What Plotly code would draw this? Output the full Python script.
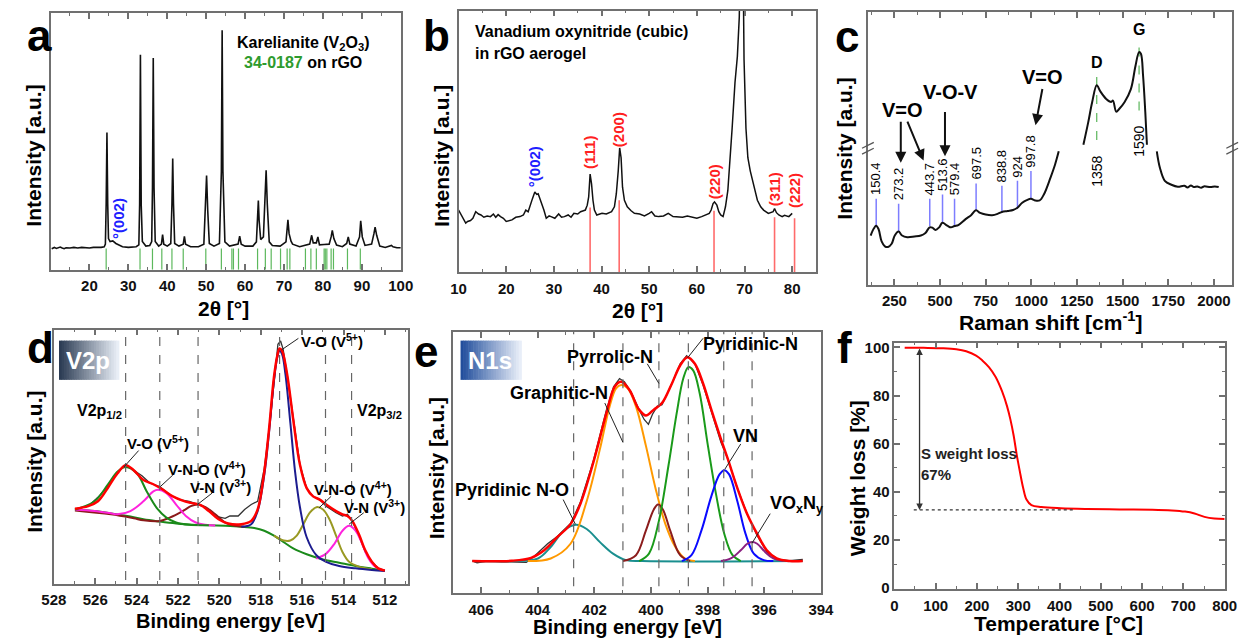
import plotly.graph_objects as go

FIG_W, FIG_H = 1255, 644
FONT = "Liberation Sans, Arial, Helvetica, sans-serif"

# ============================ DATA ============================
# (a) XRD, V2O3 (Karelianite) on rGO: (2theta [deg], intensity [a.u.])
a_xrd = [(10.3, 64), (11, 68), (11.5, 65), (12, 66), (12.5, 69), (13, 66), (13.5, 64), (14, 67), (15, 66),
         (16, 68), (17, 66), (18, 68), (19, 67), (20, 66), (21, 68), (22, 67), (23, 68), (23.8, 70),
         (24.1, 78), (24.3, 200), (24.5, 419), (24.7, 200), (24.9, 95), (25.3, 86), (26.0, 88), (26.8, 80),
         (27.5, 75), (28.5, 70), (30, 68), (31, 69), (32, 70), (32.7, 76),
         (32.9, 200), (33.1, 657), (33.3, 200), (33.6, 86), (34.5, 72), (35.5, 74), (36.0, 86), (36.2, 250),
         (36.4, 647), (36.6, 250), (36.9, 86), (37.8, 72), (38.5, 78), (38.8, 107), (39.1, 78), (40, 72),
         (40.9, 80), (41.2, 200), (41.4, 340), (41.6, 200), (41.9, 80), (43, 72), (44.1, 78), (44.4, 102),
         (44.7, 78), (46, 70), (48, 70), (49.4, 78), (49.8, 180), (50.1, 288), (50.4, 180), (50.8, 80),
         (52, 72), (53.4, 80), (53.9, 300), (54.1, 732), (54.3, 300), (54.8, 85), (56, 72), (57, 75),
         (58.2, 78), (58.6, 102), (59, 78), (60, 72), (62, 72), (62.9, 85), (63.2, 150), (63.4, 211),
         (63.6, 150), (64, 92), (64.7, 100), (65.1, 200), (65.4, 304), (65.7, 200), (66.2, 85), (67, 74),
         (69, 72), (70.5, 85), (70.8, 120), (71.0, 152), (71.3, 110), (71.8, 87), (72.2, 78), (74, 70),
         (76.6, 78), (77.1, 105), (77.5, 82), (78.3, 82), (78.7, 100), (79.1, 76), (80.3, 77), (81.6, 78),
         (82.1, 100), (82.4, 120), (82.8, 95), (83.5, 75), (85, 70), (86.1, 80), (86.5, 100), (86.9, 78),
         (88.5, 72), (89.4, 100), (89.7, 149), (90.1, 100), (90.8, 74), (92.5, 78), (93.1, 110), (93.4, 130),
         (93.8, 105), (94.6, 72), (96, 68), (97.3, 72), (97.6, 74), (98, 70), (99, 67), (100, 67)]
a_ref_2theta = [24.3, 33.0, 36.2, 38.6, 41.2, 44.1, 49.9, 53.9, 56.6, 57.0, 58.3, 63.2, 65.2, 66.7, 69.1,
                70.8, 71.5, 75.5, 76.9, 78.3, 80.3, 80.6, 81.0, 82.1, 82.7, 86.3, 89.6]
a_ref_height = 65

# (b) XRD, vanadium oxynitride in rGO aerogel
b_xrd = [(10.0, 190), (10.5, 175), (11.0, 160), (11.5, 150), (11.9, 155), (12.5, 158), (13.0, 165), (13.6, 185),
         (14.2, 178), (14.7, 175), (15.3, 168), (16.0, 172), (16.7, 170), (17.3, 178), (17.8, 168), (18.3, 176),
         (18.8, 170), (19.4, 165), (20.0, 155), (20.6, 158), (21.2, 160), (22.0, 168), (22.9, 170), (23.6, 175),
         (24.1, 190), (24.6, 185), (25.0, 200), (25.5, 225), (26.0, 245), (26.4, 238), (26.7, 240), (27.1, 225),
         (27.5, 210), (27.9, 190), (28.4, 165), (29.0, 172), (29.4, 170), (30.2, 165), (31.0, 178), (31.6, 168),
         (32.2, 170), (33.0, 175), (33.6, 168), (34.2, 180), (35.0, 178), (35.6, 185), (36.2, 188), (36.6, 190),
         (37.0, 205), (37.3, 230), (37.6, 300), (37.9, 270), (38.2, 220), (38.5, 190), (39.0, 175), (40.1, 180),
         (41.0, 178), (42.1, 185), (42.7, 200), (43.1, 240), (43.5, 310), (43.8, 380), (44.1, 350), (44.4, 260),
         (44.8, 220), (45.4, 200), (46.2, 188), (46.9, 180), (48.0, 178), (49.0, 172), (50.0, 180), (50.5, 185),
         (51.2, 172), (52.0, 170), (53.0, 172), (54.0, 180), (55.0, 170), (56.0, 170), (57.0, 168), (58.0, 172),
         (59.0, 168), (60.0, 165), (61.0, 170), (62.0, 175), (62.6, 180), (63.0, 190), (63.4, 210), (63.7, 215),
         (64.2, 205), (64.6, 185), (65.0, 175), (65.5, 170), (66.0, 200), (66.5, 250), (67.0, 340), (67.4, 440),
         (68.0, 580), (68.5, 660), (68.9, 780), (69.1, 950), (69.7, 950), (69.9, 650), (70.3, 440), (70.7, 350),
         (71.2, 310), (71.8, 270), (72.7, 220), (73.4, 200), (74.0, 190), (75.0, 180), (75.6, 182), (76.0, 185),
         (76.3, 195), (76.7, 182), (77.2, 175), (77.9, 170), (78.4, 174), (78.8, 172), (79.3, 170), (80.0, 180)]
b_ref_2theta = [37.6, 43.7, 63.6, 76.3, 80.5]
b_ref_height = [198, 220, 188, 168, 165]
b_ref_hkl = ["(111)", "(200)", "(220)", "(311)", "(222)"]
b_hkl_y = [365, 435, 275, 252, 250]

# (c) Raman spectrum (three visible segments of a broken y axis)
c_seg1 = [(120, 150), (138, 172), (150, 180), (163, 170), (180, 132), (198, 117), (215, 115), (235, 125),
          (252, 150), (273, 162), (292, 150), (320, 145), (360, 147), (395, 150), (420, 158), (443, 175),
          (458, 174), (475, 167), (495, 175), (513, 189), (540, 180), (560, 175), (579, 179), (600, 182),
          (640, 200), (670, 212), (697, 227), (720, 219), (750, 214), (785, 212), (815, 216), (839, 222),
          (870, 225), (900, 228), (924, 235), (950, 250), (975, 258), (998, 262), (1020, 257), (1045, 257),
          (1070, 277), (1105, 327), (1130, 367), (1150, 407)]
c_seg2 = [(1285, 427), (1312, 497), (1333, 557), (1358, 609), (1378, 590), (1410, 567), (1437, 558),
          (1447, 562), (1465, 528), (1482, 537), (1510, 557), (1545, 597), (1570, 667), (1590, 710),
          (1600, 705), (1612, 637), (1624, 527), (1633, 427)]
c_seg3 = [(1687, 407), (1704, 357), (1731, 317), (1767, 305), (1802, 299), (1838, 302), (1855, 297),
          (1874, 303), (1890, 298), (1909, 300), (1930, 296), (1945, 300), (1981, 298), (2005, 300), (2026, 298)]
c_peak_pos = [150.4, 273.2, 443.7, 513.6, 579.4, 697.5, 838.8, 924, 997.8]
c_peak_lbl = ["150.4", "273.2", "443.7", "513.6", "579.4", "697.5", "838.8", "924", "997.8"]
c_peak_lo = [177, 162, 179, 189, 177, 227, 222, 235, 262]
c_peak_hi = [262, 247, 262, 275, 262, 309, 302, 317, 347]
c_band_pos = [1358, 1590]
c_band_name = ["D", "G"]
c_band_lo = [442, 532]
c_band_hi = [647, 747]
c_band_lbl_top = [397, 487]
c_mode_text = ["V=O", "V-O-V", "V=O"]
c_mode_xy = [(294, 532), (559, 587), (1062, 635)]
c_arrows = [((285, 502), (285, 372)), ((318, 502), (410, 379)), ((527, 532), (527, 392)),
            ((1062, 602), (1023, 487))]

# (d) XPS V2p: (binding energy [eV], intensity [a.u.])
d_raw = [(526.98, 227), (526.34, 237), (525.87, 264), (525.40, 297), (524.93, 342), (524.53, 364), (524.14, 347),
         (523.74, 330), (523.35, 307), (522.88, 297), (522.40, 272), (521.93, 257), (521.46, 252), (520.99, 242),
         (520.51, 227), (520.04, 204), (519.72, 200), (519.49, 207), (519.09, 207), (518.78, 227), (518.46, 242),
         (518.15, 252), (517.83, 352), (517.52, 512), (517.28, 662), (517.17, 732), (517.04, 742), (516.92, 717),
         (516.73, 642), (516.41, 492), (516.10, 362), (515.78, 292), (515.47, 267), (515.15, 257), (514.84, 237),
         (514.36, 217), (514.05, 207), (513.81, 212), (513.58, 192), (513.26, 147), (512.95, 97), (512.63, 67),
         (512.32, 47), (512.00, 40)]
d_envelope = [(526.98, 229), (526.34, 237), (525.87, 252), (525.40, 292), (524.93, 337), (524.53, 362),
              (524.14, 347), (523.67, 317), (523.19, 304), (522.72, 287), (522.25, 267), (521.77, 254),
              (521.38, 247), (520.91, 240), (520.51, 222), (520.04, 197), (519.57, 184), (518.94, 182),
              (518.46, 192), (518.15, 227), (517.83, 342), (517.60, 472), (517.36, 632), (517.20, 697),
              (517.09, 719), (516.97, 712), (516.73, 642), (516.41, 492), (516.10, 362), (515.78, 292),
              (515.47, 267), (515.15, 257), (514.84, 242), (514.36, 222), (514.05, 212), (513.81, 207),
              (513.58, 192), (513.26, 152), (512.95, 102), (512.63, 67), (512.32, 47), (512.00, 40)]
d_background = [(526.98, 227), (526.03, 222), (525.24, 215), (524.45, 207), (523.67, 197), (522.88, 190),
                (522.09, 184), (521.30, 180), (520.51, 179), (519.72, 177), (518.94, 174), (518.31, 170),
                (517.83, 162), (517.36, 147), (516.89, 127), (516.41, 107), (515.78, 90), (514.99, 74),
                (514.21, 64), (513.42, 54), (512.63, 46), (512.00, 40)]
d_vo_12 = [(526.98, 227), (526.03, 252), (525.40, 302), (524.93, 342), (524.53, 357), (523.98, 337),
           (523.51, 282), (523.03, 232), (522.56, 202), (522.09, 187), (521.46, 180), (520.51, 179)]
d_vno_12 = [(526.98, 227), (526.03, 222), (525.24, 215), (524.93, 212), (524.30, 222), (523.67, 252),
            (523.19, 282), (522.96, 287), (522.56, 277), (522.09, 242), (521.62, 207), (521.14, 187),
            (520.67, 180), (520.20, 178)]
d_vn_12 = [(526.98, 224), (525.24, 212), (524.14, 200), (523.67, 194), (522.88, 192), (522.40, 202),
           (521.77, 222), (521.38, 237), (521.06, 242), (520.67, 234), (520.20, 212), (519.72, 187),
           (519.25, 177), (518.78, 174)]
d_vo_32 = [(518.94, 174), (518.46, 182), (518.15, 222), (517.83, 332), (517.60, 462), (517.36, 622),
           (517.20, 692), (517.09, 712), (516.97, 702), (516.81, 642), (516.57, 492), (516.34, 342),
           (516.10, 232), (515.78, 142), (515.31, 87), (514.84, 67), (514.21, 54), (513.42, 47),
           (512.63, 42), (512.00, 39)]
d_vno_32 = [(517.36, 147), (516.89, 132), (516.57, 132), (516.26, 147), (515.94, 182), (515.63, 217),
            (515.31, 234), (514.99, 227), (514.68, 197), (514.36, 147), (514.05, 97), (513.73, 67),
            (513.26, 52), (512.63, 44)]
d_vn_32 = [(515.31, 77), (514.84, 92), (514.44, 122), (514.05, 162), (513.73, 177), (513.42, 162),
           (513.10, 122), (512.79, 77), (512.47, 52), (512.00, 40)]
d_peak_be = [524.53, 522.88, 521.03, 517.09, 514.87, 513.61]
d_labels = ["V-O (V<sup>5+</sup>)", "V-O (V<sup>5+</sup>)", "V-N-O (V<sup>4+</sup>)", "V-N (V<sup>3+</sup>)",
            "V-N-O (V<sup>4+</sup>)", "V-N (V<sup>3+</sup>)"]
d_label_xy = [(516.10, 742), (522.96, 432), (520.59, 352), (519.93, 297), (513.55, 292), (512.52, 237)]
d_label_anchor = ["left", "center", "center", "center", "center", "center"]
d_leaders = [((516.99, 715), (516.18, 750)), ((524.61, 357), (523.90, 407)), ((522.85, 297), (522.25, 332)),
             ((521.06, 242), (520.35, 277)), ((515.18, 232), (514.60, 267)), ((513.73, 182), (513.02, 217))]

# (e) XPS N1s
e_raw = [(406.25, 95), (406.14, 92), (405.73, 98), (405.27, 95), (404.40, 93), (404.12, 112), (403.65, 150),
         (403.31, 172), (402.84, 212), (402.50, 275), (402.03, 405), (401.57, 560), (401.32, 630), (401.11, 655),
         (400.94, 645), (400.71, 615), (400.42, 560), (400.24, 530), (400.09, 515), (399.95, 545), (399.78, 570),
         (399.61, 575), (399.26, 640), (398.97, 700), (398.74, 725), (398.45, 700), (398.16, 635), (397.87, 555),
         (397.53, 460), (397.29, 410), (396.95, 320), (396.60, 240), (396.25, 175), (395.91, 125), (395.56, 102),
         (395.10, 98), (394.64, 102)]
e_envelope = [(406.31, 97), (404.92, 98), (404.23, 107), (403.77, 130), (403.31, 170), (402.84, 210),
              (402.50, 270), (402.03, 400), (401.57, 550), (401.28, 630), (401.05, 645), (400.76, 620),
              (400.42, 560), (400.18, 542), (399.90, 560), (399.61, 580), (399.26, 640), (398.97, 695),
              (398.71, 720), (398.45, 700), (398.16, 640), (397.87, 560), (397.53, 470), (397.29, 410),
              (396.95, 320), (396.60, 240), (396.25, 180), (395.91, 130), (395.56, 105), (395.10, 97), (394.64, 97)]
e_pyridinic_no = [(406.31, 97), (404.92, 97), (403.99, 105), (403.54, 140), (403.08, 190), (402.65, 208),
                  (402.27, 195), (401.80, 155), (401.34, 120), (400.88, 100), (400.30, 97), (394.64, 97)]
e_graphitic = [(404.35, 97), (403.54, 105), (402.84, 150), (402.27, 280), (401.80, 440), (401.46, 570),
               (401.23, 625), (401.05, 635), (400.82, 625), (400.53, 570), (400.18, 450), (399.84, 320),
               (399.49, 210), (399.14, 140), (398.80, 105), (398.45, 97)]
e_pyrrolic = [(400.99, 97), (400.53, 115), (400.18, 190), (399.90, 255), (399.75, 270), (399.58, 255),
              (399.32, 190), (398.97, 115), (398.62, 97)]
e_pyridinic = [(400.42, 97), (400.07, 120), (399.72, 220), (399.38, 390), (399.09, 550), (398.86, 655),
               (398.68, 690), (398.51, 680), (398.28, 610), (397.99, 450), (397.70, 300), (397.41, 180),
               (397.12, 115), (396.83, 97)]
e_vn = [(398.91, 97), (398.57, 115), (398.22, 190), (397.87, 295), (397.58, 362), (397.41, 375), (397.24, 362),
        (396.95, 280), (396.66, 180), (396.37, 120), (396.02, 100), (395.68, 97)]
e_voxny = [(397.53, 97), (397.18, 105), (396.83, 130), (396.60, 150), (396.43, 155), (396.25, 150),
           (395.97, 125), (395.68, 105), (395.33, 97)]
e_peak_be = [402.73, 400.99, 399.72, 398.68, 397.43, 396.43]
e_labels = ["Pyridinic N-O", "Graphitic-N", "Pyrrolic-N", "Pyridinic-N", "VN", "VO<sub>x</sub>N<sub>y</sub>"]
e_label_xy = [(404.92, 315), (403.23, 612), (401.46, 722), (396.49, 760), (396.66, 480), (394.87, 270)]
e_leaders = [((402.67, 210), (403.10, 285)), ((400.99, 460), (401.63, 580)), ((399.72, 640), (400.13, 700)),
             ((398.71, 718), (398.16, 778)), ((397.39, 378), (396.83, 455)), ((396.43, 152), (395.79, 242))]

# (f) TGA
f_temp = [25, 71, 119, 150, 174, 198, 213, 229, 245, 261, 273, 281, 289, 296, 304, 312, 320, 332, 356, 403,
          466, 545, 625, 672, 704, 727, 751, 775, 800]
f_weight = [99.9, 99.8, 99.6, 99.2, 98.4, 96.6, 94.6, 91.8, 87.8, 81.7, 75.5, 70.1, 63.3, 55.8, 48.4, 41.6,
            36.8, 34.5, 33.7, 33.2, 32.9, 32.7, 32.6, 32.3, 31.8, 31.0, 29.6, 28.9, 28.7]
f_loss_temp = 61
f_loss_top, f_loss_bottom = 100.2, 32.5
f_dotted_t = [47, 435]

# ============================ LAYOUT HELPERS ============================
def PX(x):
    return x / FIG_W


def PY(y):
    return 1 - y / FIG_H


AX = "#707070"
PANELS = {  # pixel boxes (left, right, top, bottom)
    "a": (38.3, 396, 9.3, 270.7),
    "b": (455, 820, 6.7, 273.3),
    "c": (873, 1245, 8.3, 286),
    "d": (41.7, 403, 331.7, 590.7),
    "e": (449, 825, 334, 600),
    "f": (900, 1237.3, 345, 596),
}
IDX = {"a": "", "b": "2", "c": "3", "d": "4", "e": "5", "f": "6"}

fig = go.Figure()


def xy(p):
    return "x" + IDX[p], "y" + IDX[p]


def add_line(pts, p, color, width, shape="linear"):
    xa, ya = xy(p)
    fig.add_trace(go.Scatter(x=[q[0] if q else None for q in pts], y=[q[1] if q else None for q in pts],
                             mode="lines", line=dict(color=color, width=width, shape=shape),
                             xaxis=xa, yaxis=ya, showlegend=False, hoverinfo="skip"))


def add_sticks(xs, lo, hi, p, color, width, dash=None):
    xa, ya = xy(p)
    X, Y = [], []
    for i, x in enumerate(xs):
        l = lo[i] if isinstance(lo, list) else lo
        h = hi[i] if isinstance(hi, list) else hi
        X += [x, x, None]
        Y += [l, h, None]
    fig.add_trace(go.Scatter(x=X, y=Y, mode="lines", line=dict(color=color, width=width, dash=dash),
                             xaxis=xa, yaxis=ya, showlegend=False, hoverinfo="skip"))


annotations = []
shapes = []


def txt(text, x, y, xref="paper", yref="paper", size=15, color="black", bold=True, angle=0,
        xanchor="center", yanchor="middle"):
    if bold:
        text = "<b>" + text + "</b>"
    annotations.append(dict(text=text, x=x, y=y, xref=xref, yref=yref, showarrow=False,
                            font=dict(family=FONT, size=size, color=color), textangle=angle,
                            xanchor=xanchor, yanchor=yanchor, borderpad=0))


def ptxt(text, px_, py_, **kw):
    txt(text, PX(px_), PY(py_), **kw)


# ============================ TRACES ============================
# (a)
add_sticks(a_ref_2theta, 0, a_ref_height, "a", "#5cb85c", 1.2)
add_line(a_xrd, "a", "#111111", 1.6)
# (b)
add_sticks(b_ref_2theta, 0, b_ref_height, "b", "#ff6b6b", 1.6)
add_line(b_xrd, "b", "#111111", 1.5)
# (c)
add_sticks(c_peak_pos, c_peak_lo, c_peak_hi, "c", "#7d7dff", 1.5)
add_sticks(c_band_pos, c_band_lo, c_band_hi, "c", "#66bb66", 1.3, dash="dash")
add_line(c_seg1 + [None] + c_seg2 + [None] + c_seg3, "c", "#111111", 2, "spline")
# (d)
add_line(d_raw, "d", "#333333", 1.3)
add_line(d_background, "d", "#1a8a1a", 2, "spline")
add_line(d_vn_12, "d", "#8b1a1a", 2, "spline")
add_line(d_vno_12, "d", "#ff22dd", 2, "spline")
add_line(d_vo_12, "d", "#1a8a1a", 2, "spline")
add_line(d_vno_32, "d", "#999922", 2, "spline")
add_line(d_vn_32, "d", "#ff22dd", 2, "spline")
add_line(d_vo_32, "d", "#1c1c8f", 2, "spline")
add_line(d_envelope, "d", "#ff0000", 2.5, "spline")
# (e)
add_line(e_raw, "e", "#333333", 1.3)
add_line(e_pyridinic_no, "e", "#1a8f8f", 2, "spline")
add_line(e_graphitic, "e", "#ff9900", 2, "spline")
add_line(e_pyrrolic, "e", "#8b1c1c", 2, "spline")
add_line(e_pyridinic, "e", "#1a9a1a", 2, "spline")
add_line(e_vn, "e", "#0a0aff", 2, "spline")
add_line(e_voxny, "e", "#8b2080", 2, "spline")
add_line(e_envelope, "e", "#ff0000", 2.5, "spline")
# (f)
fig.add_trace(go.Scatter(x=f_temp, y=f_weight, mode="lines", line=dict(color="#ff0000", width=2, shape="spline"),
                         xaxis="x6", yaxis="y6", showlegend=False, hoverinfo="skip"))

# ============================ AXES ============================
tickfont = dict(family=FONT, size=15, color="#111111", weight="bold")


def xaxis(p, rng, **kw):
    l, r, t, b = PANELS[p]
    d = dict(domain=[PX(l), PX(r)], anchor="y" + IDX[p], range=rng, showline=True, linecolor=AX,
             linewidth=1.5, mirror="ticks", ticks="inside", ticklen=6, tickwidth=1.5, tickcolor=AX,
             showgrid=False, zeroline=False, tickfont=tickfont, ticklabelstandoff=2)
    d.update(kw)
    return d


def yaxis(p, rng, **kw):
    l, r, t, b = PANELS[p]
    d = dict(domain=[PY(b), PY(t)], anchor="x" + IDX[p], range=rng, showline=True, linecolor=AX,
             linewidth=1.5, mirror=True, ticks="", showticklabels=False, showgrid=False, zeroline=False)
    d.update(kw)
    return d


def minor(dtick=None, vals=None):
    m = dict(ticks="inside", ticklen=3, tickwidth=1.2, tickcolor=AX, showgrid=False)
    if vals is not None:
        m.update(tickmode="array", tickvals=vals)
    else:
        m.update(dtick=dtick, tick0=0)
    return m


layout_axes = dict(
    xaxis=xaxis("a", [10, 100], tickmode="array", tickvals=list(range(20, 101, 10)),
                minor=minor(vals=list(range(15, 100, 10)))),
    yaxis=yaxis("a", [0, 784]),
    xaxis2=xaxis("b", [10, 85], dtick=10, tick0=0, minor=minor(5)),
    yaxis2=yaxis("b", [0, 800]),
    xaxis3=xaxis("c", [105, 2100], dtick=250, tick0=0, minor=minor(125)),
    yaxis3=yaxis("c", [0, 832]),
    xaxis4=xaxis("d", [528, 510.9], dtick=2, tick0=0, minor=minor(1)),
    yaxis4=yaxis("d", [0, 777]),
    xaxis5=xaxis("e", [407, 394], dtick=2, tick0=0, minor=minor(1)),
    yaxis5=yaxis("e", [0, 798]),
    xaxis6=xaxis("f", [0, 800], dtick=100, tick0=0, minor=minor(50)),
    yaxis6=yaxis("f", [-0.3, 102], ticks="inside", ticklen=6, tickwidth=1.5, tickcolor=AX, mirror="ticks",
                 showticklabels=True, dtick=20, tick0=0, tickfont=tickfont, minor=minor(10)),
)

# ============================ ANNOTATIONS ============================
# Panel letters
for letter, (lx, base) in {"a": (13, 47), "b": (418, 47), "c": (838, 48),
                           "d": (13, 365), "e": (408, 369), "f": (840, 365)}.items():
    ptxt(letter, lx, base - 15.3, size=44, xanchor="left")

# Axis titles
for (tx, ty, ang, size, text) in [
    (21, 155, -90, 21, "Intensity [a.u.]"), (437, 155, -90, 21, "Intensity [a.u.]"),
    (849, 147, -90, 21, "Intensity [a.u.]"), (22, 467, -90, 21, "Intensity [a.u.]"),
    (432, 473, -90, 21, "Intensity [a.u.]"), (862, 483, -90, 21, "Weight loss [%]"),
    (215, 310, 0, 21, "2\u03b8 [\u00b0]"), (638, 312, 0, 21, "2\u03b8 [\u00b0]"),
    (1059, 323, 0, 21, "Raman shift [cm<sup>-1</sup>]"), (222, 629, 0, 20, "Binding energy [eV]"),
    (628, 635, 0, 20, "Binding energy [eV]"), (1068, 631, 0, 21, "Temperature [\u00b0C]")]:
    ptxt(text, tx, ty, size=size, angle=ang)

# (a) texts
txt("Karelianite (V<sub>2</sub>O<sub>3</sub>)", 75, 692, "x", "y", size=16)
txt("<span style='color:#2e9b2e'>34-0187</span> on rGO", 75, 632, "x", "y", size=16)
txt("\u00b0(002)", 27.3, 157, "x", "y", size=15, color="#2020ff", angle=-90)

# (b) texts
txt("Vanadium oxynitride (cubic)", 13.3, 735, "x2", "y2", size=16, xanchor="left")
txt("in rGO aerogel", 13.3, 670, "x2", "y2", size=16, xanchor="left")
for x, lbl, yy in zip(b_ref_2theta, b_ref_hkl, b_hkl_y):
    txt(lbl, x, yy, "x2", "y2", size=15, color="#ff2020", angle=-90)
txt("\u00b0(002)", 26.1, 322, "x2", "y2", size=15, color="#2020ff", angle=-90)

# (c) texts
for x, lbl, hi in zip(c_peak_pos, c_peak_lbl, c_peak_hi):
    txt(lbl, x, hi + 8, "x3", "y3", size=13, bold=False, angle=-90, yanchor="bottom")
for x, name, hi, top in zip(c_band_pos, c_band_name, c_band_hi, c_band_lbl_top):
    txt(name, x, hi + 32, "x3", "y3", size=16)
    txt(str(x), x, top, "x3", "y3", size=14, bold=False, angle=-90, yanchor="top")
for t, (x, yy) in zip(c_mode_text, c_mode_xy):
    txt(t, x, yy, "x3", "y3", size=20)
for (tail, head) in c_arrows:
    annotations.append(dict(x=head[0], y=head[1], ax=tail[0], ay=tail[1], xref="x3", yref="y3",
                            axref="x3", ayref="y3", text="", showarrow=True, arrowhead=2, arrowsize=1.1,
                            arrowwidth=2, arrowcolor="#111111"))

# (d) texts
for lbl, (x, yy), anc in zip(d_labels, d_label_xy, d_label_anchor):
    txt(lbl, x, yy, "x4", "y4", size=15, xanchor=anc)
txt("V2p<sub>1/2</sub>", 525.79, 527, "x4", "y4", size=16)
txt("V2p<sub>3/2</sub>", 512.28, 527, "x4", "y4", size=16)

# (e) texts
for lbl, (x, yy) in zip(e_labels, e_label_xy):
    txt(lbl, x, yy, "x5", "y5", size=18)

# (f) texts and arrow
txt("S weight loss", f_loss_temp + 2, 55.8, "x6", "y6", size=15, xanchor="left", color="#222222")
txt("67%", f_loss_temp + 2, 47.3, "x6", "y6", size=15, xanchor="left", color="#222222")
annotations.append(dict(x=f_loss_temp, y=f_loss_bottom, ax=f_loss_temp, ay=f_loss_top, xref="x6", yref="y6",
                        axref="x6", ayref="y6", text="", showarrow=True, arrowhead=2, arrowside="end+start",
                        arrowsize=1, arrowwidth=1.3, arrowcolor="#333333"))

# ============================ SHAPES ============================
for x in d_peak_be:
    shapes.append(dict(type="line", xref="x4", yref="y4 domain", x0=x, x1=x, y0=0.015, y1=1,
                       line=dict(color="#666666", width=1.2, dash="dash")))
for x in e_peak_be:
    shapes.append(dict(type="line", xref="x5", yref="y5 domain", x0=x, x1=x, y0=0.025, y1=1,
                       line=dict(color="#666666", width=1.2, dash="dash")))
for (p0, p1) in d_leaders:
    shapes.append(dict(type="line", xref="x4", yref="y4", x0=p0[0], y0=p0[1], x1=p1[0], y1=p1[1],
                       line=dict(color="#222222", width=1)))
for (p0, p1) in e_leaders:
    shapes.append(dict(type="line", xref="x5", yref="y5", x0=p0[0], y0=p0[1], x1=p1[0], y1=p1[1],
                       line=dict(color="#222222", width=1)))
shapes.append(dict(type="line", xref="x6", yref="y6", x0=f_dotted_t[0], x1=f_dotted_t[1],
                   y0=f_loss_bottom, y1=f_loss_bottom, line=dict(color="#333333", width=1.2, dash="dot")))

# axis-break marks on panel (c)
for bx in (873, 1245):
    for dy in (-3, 3):
        shapes.append(dict(type="line", xref="paper", yref="paper", x0=PX(bx - 6), x1=PX(bx + 6),
                           y0=PY(150 + dy), y1=PY(144 + dy), line=dict(color="#555555", width=1.3)))


def gradient_box(x0, x1, y0, y1, c0, c1, n=24):
    for i in range(n):
        t = i / (n - 1)
        col = "rgb(%d,%d,%d)" % tuple(int(round(c0[k] + (c1[k] - c0[k]) * t)) for k in range(3))
        xa = x0 + (x1 - x0) * i / n
        xb = x0 + (x1 - x0) * (i + 1) / n + 0.6
        shapes.append(dict(type="rect", xref="paper", yref="paper", x0=PX(xa), x1=PX(xb), y0=PY(y1), y1=PY(y0),
                           fillcolor=col, line=dict(width=0), layer="above"))


gradient_box(47, 108, 343, 383, (44, 60, 84), (232, 238, 246))
gradient_box(457, 519, 343, 383, (34, 78, 156), (232, 238, 248))
ptxt("V2p", 77, 363, size=24, color="white")
ptxt("N1s", 487, 363, size=24, color="white")

fig.update_layout(width=FIG_W, height=FIG_H, margin=dict(l=0, r=0, t=0, b=0), paper_bgcolor="white",
                  plot_bgcolor="white", font=dict(family=FONT, color="#111111"), showlegend=False,
                  annotations=annotations, shapes=shapes, **layout_axes)

fig.write_html("out.html")
